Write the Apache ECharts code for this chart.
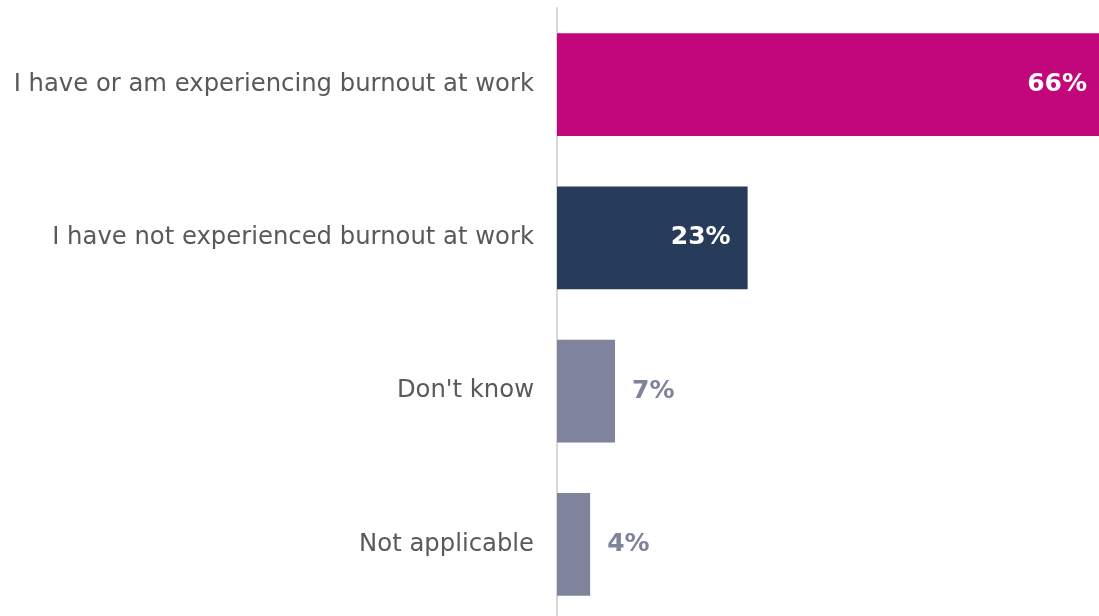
<!DOCTYPE html>
<html>
<head>
<meta charset="utf-8">
<script src="https://cdn.jsdelivr.net/npm/echarts@6/dist/echarts.min.js"></script>
<style>
  html, body { margin: 0; padding: 0; background: #fff; }
  #chart { width: 1099px; height: 616px; }
</style>
</head>
<body>
<div id="chart"></div>
<script>
// Survey responses on burnout at work (share of respondents, %)
const categories = [
  "I have or am experiencing burnout at work",
  "I have not experienced burnout at work",
  "Don't know",
  "Not applicable"
];
const values = [66, 23, 7, 4];
const barColors = ["#c2067c", "#273b5a", "#7f849c", "#7f849c"];
const labelInside = [true, true, false, false];

const chart = echarts.init(document.getElementById("chart"));

const data = values.map((v, i) => ({
  value: v,
  itemStyle: { color: barColors[i] },
  label: labelInside[i]
    ? { position: "insideRight", distance: 17, color: "#ffffff" }
    : { position: "right", distance: 17, color: "#7f849c" }
}));

chart.setOption({
  animation: false,
  // the largest bar runs slightly past the right edge of the canvas
  grid: {
    left: 557, top: 8, width: 547, height: 613,
    containLabel: false,
    outerBoundsMode: "none"
  },
  xAxis: {
    type: "value",
    min: 0,
    max: 66,
    show: false
  },
  yAxis: {
    type: "category",
    data: categories,
    inverse: true,
    axisLine: { show: true, lineStyle: { color: "#d9d9d9", width: 2 } },
    axisTick: { show: false },
    axisLabel: {
      margin: 23,
      color: "#595959",
      fontFamily: "DejaVu Sans",
      fontSize: 24.3
    }
  },
  series: [{
    type: "bar",
    data: data,
    barCategoryGap: "33%",
    label: {
      show: true,
      formatter: "{c}%",
      fontFamily: "DejaVu Sans",
      fontWeight: "bold",
      fontSize: 25
    }
  }]
});
</script>
</body>
</html>
